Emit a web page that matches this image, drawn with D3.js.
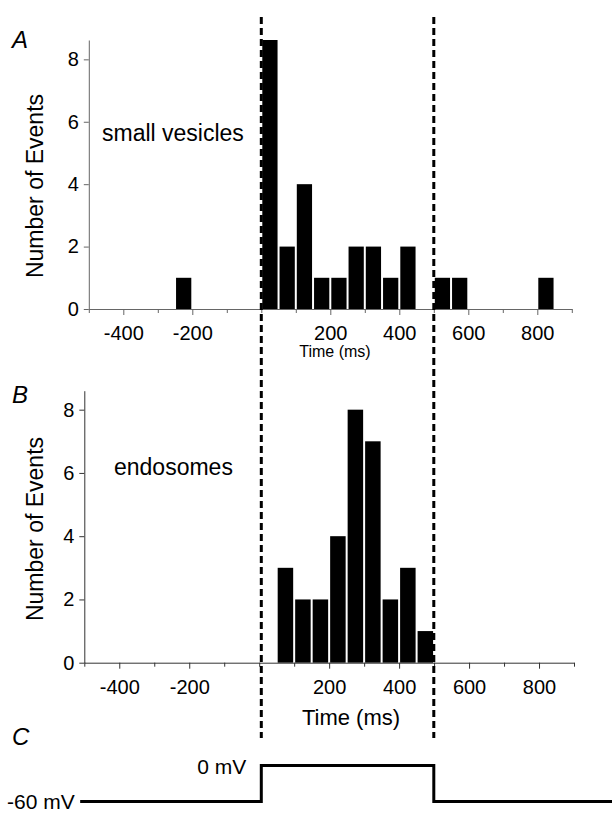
<!DOCTYPE html>
<html>
<head>
<meta charset="utf-8">
<script src="https://cdn.jsdelivr.net/npm/d3@7"></script>
<style>
  body { margin: 0; background: #fff; }
  svg { font-family: 'Liberation Sans', Arial, sans-serif; }
</style>
</head>
<body>
<svg id="chart" width="612" height="814"></svg>
<script>
// histogram bins are 50 ms wide, value = left edge of the bin
const binWidth = 50;
const vesicleBins = [-250, 0, 50, 100, 150, 200, 250, 300, 350, 400, 500, 550, 800];
const vesicleCounts = [1, 9, 2, 4, 1, 1, 2, 2, 1, 2, 1, 1, 1];
const endosomeBins = [50, 100, 150, 200, 250, 300, 350, 400, 450];
const endosomeCounts = [3, 2, 2, 4, 8, 7, 2, 3, 1];

const yTicks = [0, 2, 4, 6, 8];
const xLabelTicks = [-400, -200, 200, 400, 600, 800];
const xMinorTicks = [-500, -300, -100, 0, 100, 300, 500, 700, 900];

// voltage step protocol (panel C)
const pulseTimes = [-525, 0, 0, 500, 500, 1020];
const pulseVolts = [-60, -60, 0, 0, -60, -60];
const markerTimes = [0, 500];

const svg = d3.select('#chart');

function panel(cfg) {
  const { x, y, bins, counts, axisColor, label, letter, timeLabel } = cfg;
  const g = svg.append('g');

  g.selectAll('rect')
    .data(bins)
    .join('rect')
    .attr('x', d => x(d) + 1)
    .attr('width', d => x(d + binWidth) - x(d) - 2)
    .attr('y', (d, i) => y(counts[i]))
    .attr('height', (d, i) => y(0) - y(counts[i]))
    .attr('fill', '#000');

  const yAxis = g
    .append('g')
    .attr('transform', `translate(${x(-500)},0)`)
    .call(
      d3.axisLeft(y).tickValues(yTicks).tickSize(5).tickPadding(5).tickSizeOuter(0)
    );
  yAxis.select('.domain').attr('stroke', axisColor);
  yAxis.selectAll('.tick line').attr('stroke', axisColor);
  yAxis.selectAll('text').attr('font-size', 20).attr('fill', '#000');

  const minor = g
    .append('g')
    .attr('transform', `translate(0,${y(0)})`)
    .call(
      d3.axisBottom(x).tickValues(xMinorTicks).tickSize(4).tickFormat('').tickSizeOuter(0)
    );
  minor.select('.domain').attr('stroke', axisColor);
  minor.selectAll('.tick line').attr('stroke', axisColor);

  const major = g
    .append('g')
    .attr('transform', `translate(0,${y(0)})`)
    .call(
      d3.axisBottom(x)
        .tickValues(xLabelTicks)
        .tickFormat(d => String(d))
        .tickSize(6)
        .tickPadding(cfg.pad)
        .tickSizeOuter(0)
    );
  major.select('.domain').remove();
  major.selectAll('.tick line').attr('stroke', axisColor);
  major.selectAll('text').attr('font-size', 20).attr('fill', '#000');

  g.append('text')
    .attr('transform', `translate(43,${cfg.yLabelMid}) rotate(-90)`)
    .attr('text-anchor', 'middle')
    .attr('font-size', 23)
    .text('Number of Events');

  g.append('text')
    .attr('x', label.x)
    .attr('y', label.y)
    .attr('font-size', 23)
    .text(label.text);

  g.append('text')
    .attr('x', 12)
    .attr('y', letter.y)
    .attr('font-size', 24)
    .attr('font-style', 'italic')
    .text(letter.text);

  g.append('text')
    .attr('x', timeLabel.x)
    .attr('y', timeLabel.y)
    .attr('text-anchor', 'middle')
    .attr('font-size', timeLabel.size)
    .text('Time (ms)');
}

const xA = d3.scaleLinear().domain([-500, 900]).range([88.8, 571.8]);
const yA = d3.scaleLinear().domain([0, 8.62]).range([309, 40]).clamp(true);
const xB = d3.scaleLinear().domain([-500, 900]).range([84.3, 574]);
const yB = d3.scaleLinear().domain([0, 8.6]).range([662.7, 390.7]).clamp(true);

panel({
  x: xA, y: yA, bins: vesicleBins, counts: vesicleCounts, axisColor: '#666', pad: 11,
  yLabelMid: 186,
  label: { x: 102, y: 141, text: 'small vesicles' },
  letter: { y: 48, text: 'A' },
  timeLabel: { x: 335, y: 357, size: 16 }
});

panel({
  x: xB, y: yB, bins: endosomeBins, counts: endosomeCounts, axisColor: '#333', pad: 11,
  yLabelMid: 529,
  label: { x: 114, y: 475, text: 'endosomes' },
  letter: { y: 403, text: 'B' },
  timeLabel: { x: 351, y: 725, size: 22 }
});

// stimulus markers spanning all panels
svg.selectAll('.marker')
  .data(markerTimes)
  .join('line')
  .attr('class', 'marker')
  .attr('x1', d => xA(d))
  .attr('x2', d => xA(d))
  .attr('y1', 17)
  .attr('y2', 738)
  .attr('stroke', '#000')
  .attr('stroke-width', 3)
  .attr('stroke-dasharray', '7,4');

// panel C: voltage step
const yC = d3.scaleLinear().domain([-60, 0]).range([801.5, 765.5]);
const pulse = pulseTimes.map((t, i) => [t, pulseVolts[i]]);

svg.append('path')
  .datum(pulse)
  .attr('fill', 'none')
  .attr('stroke', '#000')
  .attr('stroke-width', 3)
  .attr('d', d3.line().x(d => xA(d[0])).y(d => yC(d[1])));

svg.append('text')
  .attr('x', 12)
  .attr('y', 745)
  .attr('font-size', 24)
  .attr('font-style', 'italic')
  .text('C');

svg.append('text')
  .attr('x', xA(0) - 15)
  .attr('y', yC(0) + 8)
  .attr('text-anchor', 'end')
  .attr('font-size', 21)
  .text('0 mV');

svg.append('text')
  .attr('x', 7)
  .attr('y', yC(-60) + 7)
  .attr('font-size', 21)
  .text('-60 mV');
</script>
</body>
</html>
